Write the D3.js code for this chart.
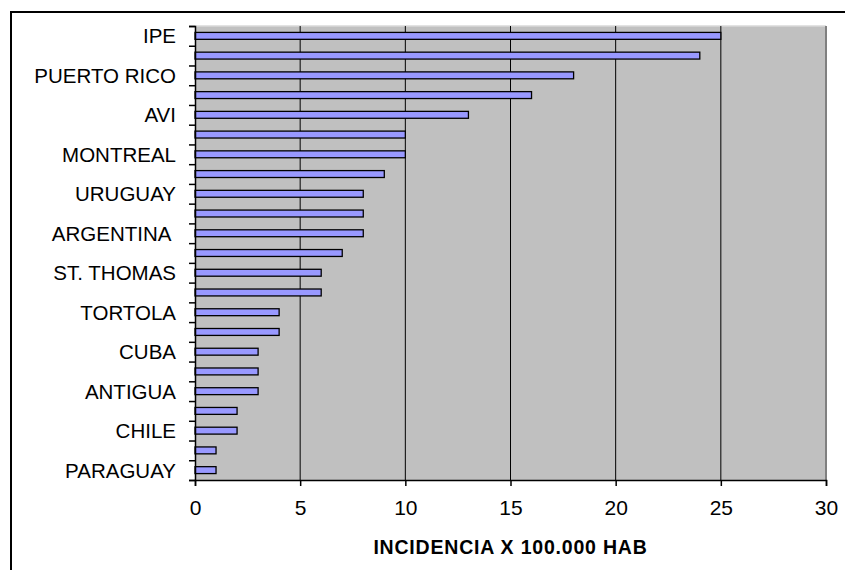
<!DOCTYPE html>
<html>
<head>
<meta charset="utf-8">
<script src="https://cdn.jsdelivr.net/npm/d3@7"></script>
<style>
  html, body { margin: 0; padding: 0; background: #fff; }
  svg { display: block; }
  text { font-family: "Liberation Sans", Arial, sans-serif; fill: #000; white-space: pre; }
</style>
</head>
<body>
<svg id="chart" width="845" height="570"></svg>
<script>
// Category names (every other one carries a visible label)
const categories = [
  "IPE", "", "PUERTO RICO", "", "AVI", "", "MONTREAL", "", "URUGUAY", "",
  "ARGENTINA ", "", "ST. THOMAS", "", "TORTOLA", "", "CUBA", "", "ANTIGUA", "",
  "CHILE", "", "PARAGUAY"
];
// Incidence per 100,000 inhabitants
const values = [25, 24, 18, 16, 13, 10, 10, 9, 8, 8, 8, 7, 6, 6, 4, 4, 3, 3, 3, 2, 2, 1, 1];
const xTicks = [0, 5, 10, 15, 20, 25, 30];
const xTitle = "INCIDENCIA X 100.000 HAB";

const svg = d3.select("#chart");
const plot = { left: 195, right: 826, top: 26, bottom: 480 };

// Outer frame
svg.append("rect")
  .attr("x", 11).attr("y", 12)
  .attr("width", 845).attr("height", 600)
  .attr("fill", "none").attr("stroke", "#000").attr("stroke-width", 2);

const x = d3.scaleLinear().domain([0, 30]).range([plot.left, plot.right]);
const idx = d3.range(categories.length);
const y = d3.scaleBand().domain(idx).range([plot.top, plot.bottom]).paddingInner(0.65).paddingOuter(0.325);
const yEdge = d3.scaleLinear().domain([0, categories.length]).range([plot.top, plot.bottom]);

// Plot background
svg.append("rect")
  .attr("x", plot.left).attr("y", plot.top)
  .attr("width", plot.right - plot.left).attr("height", plot.bottom - plot.top)
  .attr("fill", "#c0c0c0");
svg.append("line")
  .attr("x1", plot.left).attr("x2", plot.right)
  .attr("y1", plot.top).attr("y2", plot.top)
  .attr("stroke", "#d8d8d8").attr("stroke-width", 1.5);
svg.append("line")
  .attr("x1", plot.right).attr("x2", plot.right)
  .attr("y1", plot.top).attr("y2", plot.bottom)
  .attr("stroke", "#808080").attr("stroke-width", 2);

// Vertical gridlines
svg.append("g")
  .selectAll("line")
  .data(xTicks.filter(t => t > 0 && t < 30))
  .join("line")
  .attr("x1", d => x(d)).attr("x2", d => x(d))
  .attr("y1", plot.top).attr("y2", plot.bottom)
  .attr("stroke", "#000").attr("stroke-width", 1);

// Bars
svg.append("g")
  .selectAll("rect")
  .data(values)
  .join("rect")
  .attr("x", x(0))
  .attr("y", (d, i) => y(i))
  .attr("width", d => x(d) - x(0))
  .attr("height", y.bandwidth())
  .attr("fill", "#9999ff")
  .attr("stroke", "#000")
  .attr("stroke-width", 1.3);

// Category axis: tick marks on category boundaries, labels centred on bars
const yAxis = svg.append("g")
  .attr("transform", `translate(${plot.left},0)`)
  .call(d3.axisLeft(yEdge).tickValues(d3.range(categories.length + 1)).tickSize(6).tickFormat(""));
yAxis.select(".domain").attr("stroke", "#000").attr("stroke-width", 1.5);
yAxis.selectAll(".tick line").attr("stroke", "#000").attr("stroke-width", 1.5);

svg.append("g")
  .selectAll("text")
  .data(categories)
  .join("text")
  .attr("x", 176)
  .attr("y", (d, i) => y(i) + y.bandwidth() / 2)
  .attr("dy", "0.36em")
  .attr("text-anchor", "end")
  .attr("font-size", "20.5px")
  .text(d => d);

// Value axis
const xAxis = svg.append("g")
  .attr("transform", `translate(0,${plot.bottom})`)
  .call(d3.axisBottom(x).tickValues(xTicks).tickSize(6).tickPadding(14).tickFormat(d3.format("d")));
xAxis.select(".domain").attr("stroke", "#000").attr("stroke-width", 1.5);
xAxis.selectAll(".tick line").attr("stroke", "#000").attr("stroke-width", 1.5);
xAxis.selectAll(".tick text")
  .attr("font-size", "21px")
  .attr("font-family", "'Liberation Sans', Arial, sans-serif")
  .attr("fill", "#000");

svg.append("text")
  .attr("x", (plot.left + plot.right) / 2)
  .attr("y", 554)
  .attr("text-anchor", "middle")
  .attr("font-size", "19.5px")
  .attr("font-weight", "bold")
  .attr("letter-spacing", "0.8px")
  .text(xTitle);
</script>
</body>
</html>
